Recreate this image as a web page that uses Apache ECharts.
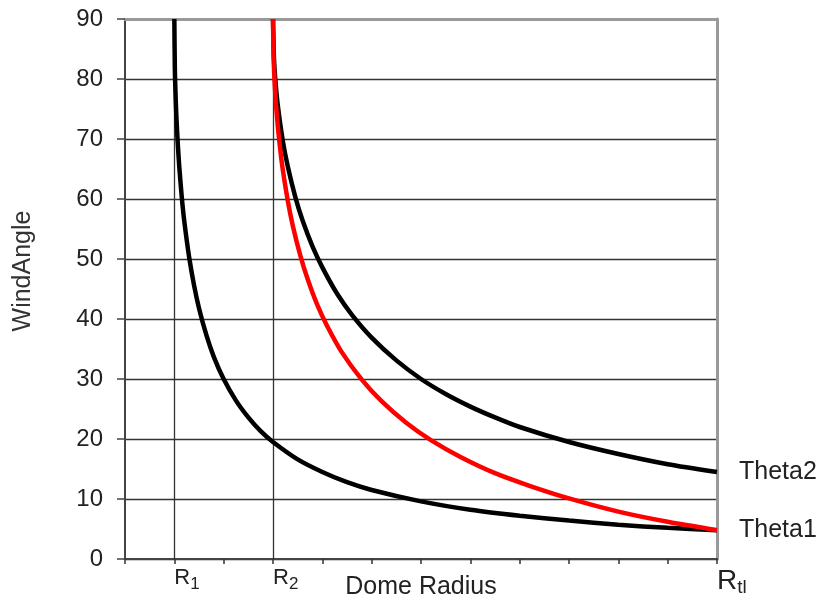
<!DOCTYPE html>
<html>
<head>
<meta charset="utf-8">
<script src="https://cdn.jsdelivr.net/npm/echarts@6/dist/echarts.min.js"></script>
<style>html,body{margin:0;padding:0;background:#fff}#c{width:821px;height:598px}</style>
</head>
<body>
<div id="c"></div>
<script>
// ---- data ----
// lower black curve (starts at R1) -> Theta1
const radiusLower = [1, 1.01, 1.02, 1.04, 1.07, 1.1, 1.15, 1.2, 1.3, 1.4, 1.5, 1.65, 1.8, 2, 2.25, 2.5, 2.75, 3, 3.5, 4, 4.5, 5, 6, 7, 8, 9, 10, 11, 12];
const thetaLower  = [90, 81.9, 78.6, 74.0, 69.2, 65.4, 60.4, 56.4, 50.3, 45.6, 41.8, 37.3, 33.7, 30, 26.4, 23.6, 21.3, 19.5, 16.6, 14.5, 12.8, 11.5, 9.6, 8.2, 7.2, 6.4, 5.7, 5.2, 4.8];
// upper black curve (starts at R2) -> Theta2
const radiusUpper = [3, 3.02, 3.05, 3.1, 3.2, 3.3, 3.45, 3.6, 3.8, 4, 4.3, 4.6, 5, 5.5, 6, 6.5, 7, 7.5, 8, 9, 10, 11, 12];
const thetaUpper  = [90, 83.4, 79.6, 75.4, 69.6, 65.4, 60.4, 56.4, 52.1, 48.6, 44.2, 40.7, 36.9, 33.1, 30, 27.5, 25.4, 23.6, 22.0, 19.5, 17.5, 15.8, 14.5];
// red curve (starts at R2)
const radiusRed = [3, 3.01, 3.03, 3.06, 3.1, 3.15, 3.2, 3.3, 3.4, 3.55, 3.7, 3.9, 4.1, 4.4, 4.8, 5.2, 5.7, 6.2, 6.8, 7.5, 8.2, 9, 10, 11, 12];
const thetaRed  = [90, 84.2, 79.9, 75.8, 71.9, 68.0, 64.8, 59.7, 55.6, 50.7, 46.7, 42.3, 38.8, 34.4, 29.9, 26.3, 22.7, 19.8, 17.0, 14.3, 12.2, 10.1, 7.9, 6.2, 4.8];
// axis
const yTicks = [0, 10, 20, 30, 40, 50, 60, 70, 80, 90];
const xLabelPos  = [1, 3, 12];
const xLabelMain = ['R', 'R', 'R'];
const xLabelSub  = ['1', '2', 'tl'];
const markerRadii = [1, 3];
const seriesNames = ['Theta1', 'Theta2', 'Red'];

const FONT = '"Liberation Sans", Arial, sans-serif';
const zip = (xs, ys) => xs.map((x, i) => [x, ys[i]]);

const chart = echarts.init(document.getElementById('c'), null, {renderer: 'canvas'});
const option = {
  animation: false,
  backgroundColor: '#fff',
  grid: {left: 125, right: 104, top: 19, bottom: 39, containLabel: false, outerBoundsMode: 'none'},
  xAxis: [{
    type: 'value', min: 0, max: 12, interval: 1,
    axisLine: {show: true, onZero: false, lineStyle: {color: '#444', width: 2}},
    axisTick: {show: true, length: 5, lineStyle: {color: '#333', width: 1.5}},
    splitLine: {show: false},
    axisLabel: {
      margin: 8, align: 'left', showMinLabel: true, showMaxLabel: true, hideOverlap: false,
      formatter: function (v) {
        const i = xLabelPos.indexOf(v);
        if (i < 0) return '';
        return i === 2 ? '{rb|' + xLabelMain[i] + '}{sb|' + xLabelSub[i] + '}'
                       : '{r|' + xLabelMain[i] + '}{s|' + xLabelSub[i] + '}';
      },
      rich: {
        r:  {fontSize: 22, fontFamily: FONT, color: '#222', verticalAlign: 'top', lineHeight: 26},
        s:  {fontSize: 17, fontFamily: FONT, color: '#222', verticalAlign: 'bottom', lineHeight: 17},
        rb: {fontSize: 28, fontFamily: FONT, color: '#222', verticalAlign: 'top', lineHeight: 30},
        sb: {fontSize: 19, fontFamily: FONT, color: '#222', verticalAlign: 'bottom', lineHeight: 19}
      }
    },
    name: 'Dome Radius', nameLocation: 'middle', nameGap: 16, nameMoveOverlap: false,
    nameTextStyle: {fontSize: 25, fontFamily: FONT, color: '#222'}
  }, {
    type: 'value', position: 'top', min: 0, max: 12,
    axisLine: {show: true, onZero: false, lineStyle: {color: '#999', width: 3}},
    axisTick: {show: false}, axisLabel: {show: false}, splitLine: {show: false}
  }],
  yAxis: [{
    type: 'value', min: 0, max: 90, interval: 10,
    axisLine: {show: true, onZero: false, lineStyle: {color: '#444', width: 2}},
    axisTick: {show: true, length: 8, lineStyle: {color: '#444', width: 1.5}},
    axisLabel: {margin: 22, fontSize: 24, fontFamily: FONT, color: '#222',
      formatter: v => yTicks.includes(v) ? String(v) : ''},
    splitLine: {show: true, lineStyle: {color: '#333', width: 1.3}}
  }, {
    type: 'value', position: 'right', min: 0, max: 90,
    axisLine: {show: true, onZero: false, lineStyle: {color: '#999', width: 3}},
    axisTick: {show: false}, axisLabel: {show: false}, splitLine: {show: false}
  }],
  graphic: [{
    type: 'text', x: 23, y: 271, rotation: Math.PI / 2,
    style: {text: 'WindAngle', font: '25px "Liberation Sans", Arial, sans-serif', fill: '#333', align: 'center', verticalAlign: 'middle'}
  }],
  series: [{
    name: 'markers', type: 'line', data: [], silent: true,
    markLine: {silent: true, symbol: 'none', z: 1, label: {show: false},
      lineStyle: {color: '#333', width: 1.3, type: 'solid'},
      emphasis: {disabled: true},
      data: markerRadii.map(v => ({xAxis: v}))}
  }, {
    name: seriesNames[0], type: 'line', data: zip(radiusLower, thetaLower), z: 6,
    showSymbol: false, smooth: 0.25, clip: true,
    lineStyle: {color: '#000', width: 4.5}, itemStyle: {color: '#000'},
    endLabel: {show: true, formatter: seriesNames[0], distance: 22, fontSize: 25, fontFamily: FONT, color: '#222'}
  }, {
    name: seriesNames[1], type: 'line', data: zip(radiusUpper, thetaUpper), z: 6,
    showSymbol: false, smooth: 0.25, clip: true,
    lineStyle: {color: '#000', width: 4.5}, itemStyle: {color: '#000'},
    endLabel: {show: true, formatter: seriesNames[1], distance: 22, fontSize: 25, fontFamily: FONT, color: '#222'}
  }, {
    name: seriesNames[2], type: 'line', data: zip(radiusRed, thetaRed), z: 7,
    showSymbol: false, smooth: 0.25, clip: true,
    lineStyle: {color: '#ff0000', width: 4.5}, itemStyle: {color: '#ff0000'}
  }]
};
chart.setOption(option);
</script>
</body>
</html>
